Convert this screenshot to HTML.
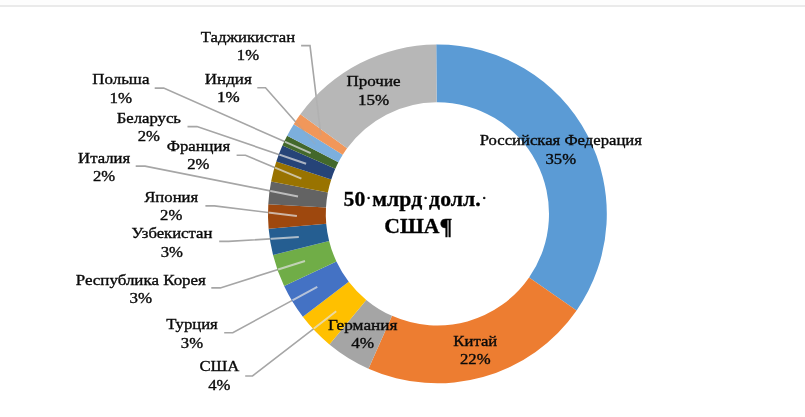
<!DOCTYPE html>
<html lang="ru"><head><meta charset="utf-8"><title>Chart</title>
<style>
html,body{margin:0;padding:0;background:#fff;}
body{width:805px;height:417px;overflow:hidden;position:relative;}
svg{position:absolute;left:0;top:0;display:block;}
text{font-family:"Liberation Serif",serif;fill:#0a0a0a;stroke:#0a0a0a;stroke-width:.35px;}
.l{font-size:15px;text-anchor:middle;}
.c{font-size:21.7px;font-weight:bold;text-anchor:middle;fill:#000;}
.d{font-size:13px;}
.ld{fill:none;stroke:#A6A6A6;stroke-width:1.6;}
</style></head><body>
<svg width="805" height="417" viewBox="0 0 805 417">
<rect x="0" y="0" width="805" height="5" fill="#fdfdfd"/>
<rect x="0" y="5" width="805" height="2" fill="#eaeaea"/>
<path class="ld" d="M245.2 376H252.5L336.2 311.3M224.2 332.7H232.8L317.3 286.9M211.3 287.9H220.3L305.0 261.0M219.2 241.4H228.5L298.8 237.1M205.4 205.9H214.4L296.9 216.0M135.7 166.1H145L298.0 196.4M236.6 155.3H245.5L301.4 178.7M187.5 126.6H197L306.1 163.8M154.7 88.1H163.7L310.7 153.1M257.3 87.7H265.5L315.4 144.2M301.1 45.6H310L320.9 135.3"/>
<path d="M436.22 44.50A169.4 169.4 0 0 1 576.59 310.46L529.10 277.51A111.6 111.6 0 0 0 436.62 102.30Z" fill="#5B9BD5"/>
<path d="M576.59 310.46A169.4 169.4 0 0 1 368.50 368.65L392.01 315.85A111.6 111.6 0 0 0 529.10 277.51Z" fill="#ED7D31"/>
<path d="M368.50 368.65A169.4 169.4 0 0 1 329.42 344.42L366.26 299.89A111.6 111.6 0 0 0 392.01 315.85Z" fill="#A5A5A5"/>
<path d="M329.42 344.42A169.4 169.4 0 0 1 302.83 316.79L348.74 281.68A111.6 111.6 0 0 0 366.26 299.89Z" fill="#FFC000"/>
<path d="M302.83 316.79A169.4 169.4 0 0 1 284.12 286.03L336.42 261.42A111.6 111.6 0 0 0 348.74 281.68Z" fill="#4472C4"/>
<path d="M284.12 286.03A169.4 169.4 0 0 1 273.03 254.88L329.11 240.90A111.6 111.6 0 0 0 336.42 261.42Z" fill="#70AD47"/>
<path d="M273.03 254.88A169.4 169.4 0 0 1 268.64 228.66L326.22 223.63A111.6 111.6 0 0 0 329.11 240.90Z" fill="#255E91"/>
<path d="M268.64 228.66A169.4 169.4 0 0 1 268.28 204.15L325.99 207.48A111.6 111.6 0 0 0 326.22 223.63Z" fill="#9E480E"/>
<path d="M268.28 204.15A169.4 169.4 0 0 1 271.11 181.58L327.85 192.61A111.6 111.6 0 0 0 325.99 207.48Z" fill="#636363"/>
<path d="M271.11 181.58A169.4 169.4 0 0 1 276.29 161.55L331.26 179.41A111.6 111.6 0 0 0 327.85 192.61Z" fill="#997300"/>
<path d="M276.29 161.55A169.4 169.4 0 0 1 282.41 145.54L335.29 168.86A111.6 111.6 0 0 0 331.26 179.41Z" fill="#264478"/>
<path d="M282.41 145.54A169.4 169.4 0 0 1 287.14 135.68L338.41 162.37A111.6 111.6 0 0 0 335.29 168.86Z" fill="#43682B"/>
<path d="M287.14 135.68A169.4 169.4 0 0 1 293.74 124.13L342.76 154.76A111.6 111.6 0 0 0 338.41 162.37Z" fill="#7CAFDD"/>
<path d="M293.74 124.13A169.4 169.4 0 0 1 300.35 114.33L347.11 148.30A111.6 111.6 0 0 0 342.76 154.76Z" fill="#F1975A"/>
<path d="M300.35 114.33A169.4 169.4 0 0 1 436.22 44.50L436.62 102.30A111.6 111.6 0 0 0 347.11 148.30Z" fill="#B7B7B7"/>
<clipPath id="cp"><circle cx="437.4" cy="213.9" r="168.9"/></clipPath>
<path class="ld" clip-path="url(#cp)" style="stroke:#E0E0E0;stroke-width:2" opacity="0.72" d="M245.2 376H252.5L336.2 311.3M224.2 332.7H232.8L317.3 286.9M211.3 287.9H220.3L305.0 261.0M219.2 241.4H228.5L298.8 237.1M205.4 205.9H214.4L296.9 216.0M135.7 166.1H145L298.0 196.4M236.6 155.3H245.5L301.4 178.7M187.5 126.6H197L306.1 163.8M154.7 88.1H163.7L310.7 153.1"/>
<path class="ld" clip-path="url(#cp)" opacity="0.3" d="M257.3 87.7H265.5L315.4 144.2M301.1 45.6H310L320.9 135.3"/>
<g transform="translate(560.8 145.3) scale(1.113 1)"><text class="l">Российская Федерация</text><text class="l" y="18.4">35%</text></g>
<g transform="translate(475.3 345.9) scale(1.113 1)"><text class="l">Китай</text><text class="l" y="18.6">22%</text></g>
<g transform="translate(362.7 329.5) scale(1.15 1)"><text class="l">Германия</text><text class="l" y="18.8">4%</text></g>
<g transform="translate(219.4 371.1) scale(1.113 1)"><text class="l">США</text><text class="l" y="18.9">4%</text></g>
<g transform="translate(192 329.1) scale(1.113 1)"><text class="l">Турция</text><text class="l" y="18.5">3%</text></g>
<g transform="translate(140.8 285.2) scale(1.131 1)"><text class="l">Республика Корея</text><text class="l" y="18.3">3%</text></g>
<g transform="translate(171.9 238.4) scale(1.113 1)"><text class="l">Узбекистан</text><text class="l" y="18.7">3%</text></g>
<g transform="translate(171.2 201.9) scale(1.113 1)"><text class="l">Япония</text><text class="l" y="18.6">2%</text></g>
<g transform="translate(104.1 162.6) scale(1.113 1)"><text class="l">Италия</text><text class="l" y="18.1">2%</text></g>
<g transform="translate(198.4 150.8) scale(1.113 1)"><text class="l">Франция</text><text class="l" y="18.7">2%</text></g>
<g transform="translate(148.8 122.7) scale(1.113 1)"><text class="l">Беларусь</text><text class="l" y="18.3">2%</text></g>
<g transform="translate(120.8 84.2) scale(1.13 1)"><text class="l">Польша</text><text class="l" y="19.1">1%</text></g>
<g transform="translate(228.3 84.0) scale(1.135 1)"><text class="l">Индия</text><text class="l" y="18.3">1%</text></g>
<g transform="translate(248 41.5) scale(1.113 1)"><text class="l">Таджикистан</text><text class="l" y="18.9">1%</text></g>
<g transform="translate(373.5 85.8) scale(1.135 1)"><text class="l">Прочие</text><text class="l" y="18.9">15%</text></g>
<text class="c" x="415" y="205.8" letter-spacing="0.1">50<tspan class="d" dy="-3.4" dx="1.2">·</tspan><tspan dy="3.4" dx="1.2">млрд</tspan><tspan class="d" dy="-3.4" dx="1.2">·</tspan><tspan dy="3.4" dx="1.2">долл.</tspan><tspan class="d" dy="-3.4" dx="1.2">·</tspan></text>
<text class="c" x="418.3" y="233.2">США<tspan font-size="24" dy="0.8">¶</tspan></text>
</svg></body></html>
